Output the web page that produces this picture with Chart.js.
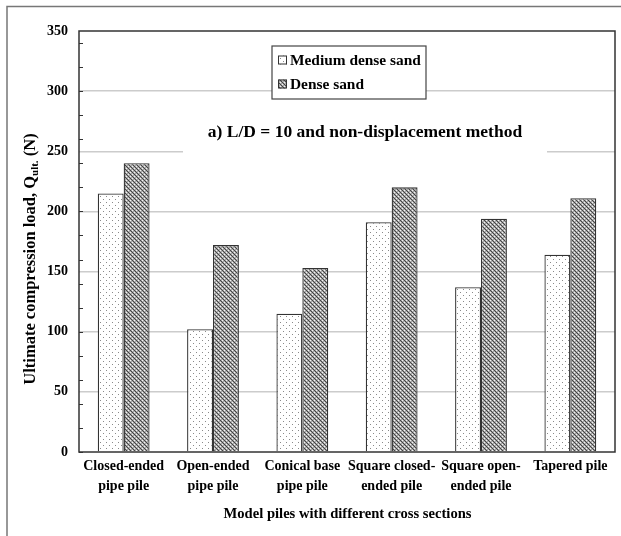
<!DOCTYPE html>
<html>
<head>
<meta charset="utf-8">
<script src="https://cdn.jsdelivr.net/npm/chart.js@4/dist/chart.umd.min.js"></script>
<style>
  html,body{margin:0;padding:0;background:#fff;}
  #wrap{width:621px;height:536px;position:relative;}
</style>
</head>
<body>
<div id="wrap"><canvas id="c" width="621" height="536"></canvas></div>
<script>
// ---- data ----
const categories = [
  ["Closed-ended", "pipe pile"],
  ["Open-ended", "pipe pile"],
  ["Conical base", "pipe pile"],
  ["Square closed-", "ended pile"],
  ["Square open-", "ended pile"],
  ["Tapered pile"]
];
const seriesNames = ["Medium dense sand", "Dense sand"];
const mediumDense = [215, 102, 115, 191, 137, 164];
const dense = [240, 172, 153, 220, 194, 211];
const yMin = 0, yMax = 350, yStep = 50, yMinorStep = 20;
const chartTitle = "a) L/D = 10 and non-displacement method";
const xTitle = "Model piles with different cross sections";
const yTitleMain = "Ultimate compression load, Q";
const yTitleSub = "ult.";
const yTitleEnd = " (N)";

const FONT = "'Liberation Serif', 'Times New Roman', serif";

// ---- patterns ----
function makeDots() {
  const c = document.createElement('canvas'); c.width = 6; c.height = 6;
  const g = c.getContext('2d');
  g.fillStyle = '#fff'; g.fillRect(0, 0, 6, 6);
  g.fillStyle = '#8a8a8a';
  g.fillRect(1, 1, 1, 1); g.fillRect(4, 4, 1, 1);
  return g.createPattern(c, 'repeat');
}
function makeWeave() {
  const c = document.createElement('canvas'); c.width = 4; c.height = 4;
  const g = c.getContext('2d');
  g.fillStyle = '#a8a8a8'; g.fillRect(0, 0, 4, 4);
  g.fillStyle = '#444';
  g.fillRect(0, 0, 1, 1); g.fillRect(1, 1, 1, 1); g.fillRect(2, 2, 1, 1); g.fillRect(3, 3, 1, 1);
  g.fillStyle = '#f4f4f4';
  g.fillRect(2, 0, 1, 1); g.fillRect(0, 2, 1, 1);
  return g.createPattern(c, 'repeat');
}
const patMedium = makeDots();
const patDense = makeWeave();

const decor = {
  id: 'decor',
  beforeDatasetsDraw(chart) {
    const ctx = chart.ctx;
    ctx.save();
    ctx.fillStyle = '#fff';
    ctx.fillRect(183, 116, 364, 40);
    ctx.restore();
  },
  afterDraw(chart) {
    const ctx = chart.ctx;
    const a = chart.chartArea;
    const y = chart.scales.y;
    ctx.save();
    // minor ticks (inside)
    ctx.strokeStyle = '#333'; ctx.lineWidth = 1;
    for (let v = yMin; v <= yMax; v += yMinorStep) {
      const py = Math.round(y.getPixelForValue(v)) + 0.5;
      ctx.beginPath(); ctx.moveTo(a.left, py); ctx.lineTo(a.left + 4, py); ctx.stroke();
    }
    // plot border
    ctx.strokeStyle = '#333'; ctx.lineWidth = 1.5;
    ctx.strokeRect(a.left, a.top, a.right - a.left, a.bottom - a.top);
    // outer frame
    ctx.strokeStyle = '#777'; ctx.lineWidth = 1.5;
    ctx.beginPath(); ctx.moveTo(7, 540); ctx.lineTo(7, 6.5); ctx.lineTo(625, 6.5); ctx.stroke();

    // legend
    ctx.fillStyle = '#fff';
    ctx.fillRect(272, 46, 154, 53);
    ctx.strokeStyle = '#444'; ctx.lineWidth = 1.2;
    ctx.strokeRect(272, 46, 154, 53);
    const pats = [patMedium, patDense];
    const rows = [60, 84];
    ctx.font = "bold 15.4px " + FONT;
    ctx.textBaseline = 'middle'; ctx.textAlign = 'left';
    chart.data.datasets.forEach((ds, i) => {
      ctx.fillStyle = pats[i];
      ctx.fillRect(278, rows[i] - 4.5, 9, 9);
      ctx.strokeStyle = '#333'; ctx.lineWidth = 1;
      ctx.strokeRect(278.5, rows[i] - 4, 8, 8);
      ctx.fillStyle = '#000';
      ctx.fillText(ds.label, 290, rows[i] + 1);
    });

    // chart title
    ctx.font = "bold 17.5px " + FONT;
    ctx.textAlign = 'center'; ctx.textBaseline = 'middle';
    ctx.fillStyle = '#000';
    ctx.fillText(chartTitle, 365, 132);

    // x title
    ctx.font = "bold 14.6px " + FONT;
    ctx.fillText(xTitle, 347.5, 514);

    // y title with subscript
    ctx.translate(31, 259);
    ctx.rotate(-Math.PI / 2);
    const fMain = "bold 16.5px " + FONT, fSub = "bold 11px " + FONT;
    ctx.font = fMain; const w1 = ctx.measureText(yTitleMain).width; const w3 = ctx.measureText(yTitleEnd).width;
    ctx.font = fSub; const w2 = ctx.measureText(yTitleSub).width;
    let x0 = -(w1 + w2 + w3) / 2;
    ctx.textAlign = 'left'; ctx.textBaseline = 'middle';
    ctx.font = fMain; ctx.fillText(yTitleMain, x0, 0);
    ctx.font = fSub; ctx.fillText(yTitleSub, x0 + w1, 4);
    ctx.font = fMain; ctx.fillText(yTitleEnd, x0 + w1 + w2, 0);
    ctx.restore();
  }
};

new Chart(document.getElementById('c'), {
  type: 'bar',
  data: {
    labels: categories,
    datasets: [
      { label: seriesNames[0], data: mediumDense, backgroundColor: patMedium, borderColor: '#333', borderWidth: 1.3 },
      { label: seriesNames[1], data: dense, backgroundColor: patDense, borderColor: '#333', borderWidth: 1.3 }
    ]
  },
  options: {
    responsive: false,
    animation: false,
    devicePixelRatio: 1,
    layout: { padding: { left: 0, right: 6, top: 31, bottom: 0 } },
    datasets: { bar: { categoryPercentage: 0.58, barPercentage: 1.0 } },
    plugins: { legend: { display: false }, tooltip: { enabled: false }, title: { display: false } },
    scales: {
      x: {
        grid: { display: false, drawTicks: false },
        border: { display: false },
        ticks: { color: '#000', font: { family: FONT, size: 14, weight: 'bold', lineHeight: 1.4 }, padding: 5, maxRotation: 0, autoSkip: false },
        afterFit(s) { s.height = 84; }
      },
      y: {
        min: yMin, max: yMax,
        grid: {
          drawTicks: false,
          color: ctx => (ctx.tick && (ctx.tick.value === yMin || ctx.tick.value === yMax)) ? 'rgba(0,0,0,0)' : '#cccccc',
          lineWidth: 1.5
        },
        border: { display: false },
        ticks: { stepSize: yStep, color: '#000', font: { family: FONT, size: 14, weight: 'bold' }, padding: 11 },
        afterFit(s) { s.width = 79; }
      }
    }
  },
  plugins: [decor]
});
</script>
</body>
</html>
